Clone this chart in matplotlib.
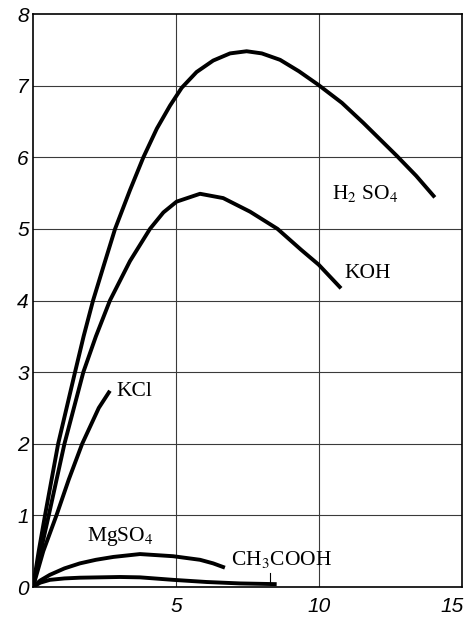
import matplotlib
matplotlib.use("Agg")
import matplotlib.pyplot as plt
import matplotlib.transforms as mtransforms

plt.rcParams['mathtext.fontset'] = 'stix'

# values (x: concentration, y: conductivity)
h2so4_x = [0, 0.2, 0.42, 0.88, 1.47, 1.77, 2.1, 2.46, 2.87, 3.39, 3.86, 4.33, 4.79, 5.2, 5.72,
           6.30, 6.89, 7.47, 8.0, 8.64, 9.3, 9.98, 10.8, 11.55, 12.72, 13.4, 14.05]
h2so4_y = [0, 0.5, 1.0, 2.0, 3.0, 3.5, 4.0, 4.47, 5.0, 5.54, 6.0, 6.40, 6.72, 6.97, 7.19,
           7.35, 7.45, 7.48, 7.45, 7.36, 7.2, 7.01, 6.76, 6.48, 6.02, 5.74, 5.44]

koh_x = [0, 0.27, 0.55, 1.1, 1.76, 2.2, 2.69, 3.39, 4.09, 4.56, 5.02, 5.84, 6.65, 7.59, 8.55, 9.37, 9.99, 10.77]
koh_y = [0, 0.5, 1.0, 2.0, 3.0, 3.5, 4.0, 4.55, 5.0, 5.23, 5.38, 5.49, 5.43, 5.24, 5.0, 4.71, 4.5, 4.17]

kcl_x = [0, 0.36, 0.82, 1.25, 1.72, 2.3, 2.69]
kcl_y = [0, 0.5, 1.0, 1.5, 2.0, 2.5, 2.74]

mgso4_x = [0, 0.25, 0.59, 1.1, 1.64, 2.2, 2.81, 3.74, 4.9, 5.84, 6.3, 6.71]
mgso4_y = [0, 0.09, 0.17, 0.26, 0.33, 0.38, 0.42, 0.46, 0.43, 0.38, 0.33, 0.27]

ch3cooh_x = [0, 0.25, 0.59, 1.1, 1.64, 3.04, 3.74, 4.9, 6.07, 7.24, 8.52]
ch3cooh_y = [0, 0.06, 0.10, 0.12, 0.13, 0.14, 0.135, 0.10, 0.07, 0.05, 0.04]

y_ticks = [0, 1, 2, 3, 4, 5, 6, 7, 8]
x_ticks = [5, 10, 15]

fig = plt.figure(figsize=(4.66, 6.17), dpi=100)
ax = fig.add_axes([0.0708, 0.0486, 0.9206, 0.9287])

grid_kw = dict(color='#3a3a3a', lw=0.8, zorder=1)
for yy in y_ticks[1:-1]:
    ax.axhline(yy, **grid_kw)
for xx in x_ticks[:-1]:
    ax.axvline(xx, **grid_kw)

curve_kw = dict(color='black', lw=2.8, solid_capstyle='butt', solid_joinstyle='round', zorder=3)
ax.plot(h2so4_x, h2so4_y, **curve_kw)
ax.plot(koh_x, koh_y, **curve_kw)
ax.plot(kcl_x, kcl_y, **curve_kw)
ax.plot(mgso4_x, mgso4_y, **curve_kw)
ax.plot(ch3cooh_x, ch3cooh_y, **curve_kw)

lab_kw = dict(family='Liberation Serif', fontsize=15.5, va='center', ha='left')
ax.text(10.44, 5.5, r'H$_2$ SO$_4$', **lab_kw)
ax.text(10.9, 4.38, 'KOH', **lab_kw)
ax.text(2.93, 2.73, 'KCl', **lab_kw)
ax.text(1.88, 0.70, r'MgSO$_4$', **lab_kw)
ax.text(6.91, 0.39, r'CH$_3$COOH', **lab_kw)
ax.plot([8.29, 8.29], [0.19, 0.05], color='black', lw=0.8)

ax.set_xlim(0, 15)
ax.set_ylim(0, 8)
ax.set_xticks(x_ticks)
ax.set_yticks(y_ticks)
ax.tick_params(length=0, labelsize=15)
ax.tick_params(axis='x', pad=7)
ax.tick_params(axis='y', pad=3)
for lbl in ax.get_xticklabels() + ax.get_yticklabels():
    lbl.set_fontstyle('italic')
    lbl.set_family('Liberation Sans')
# last x label sits a bit left so it stays inside the picture
last = ax.get_xticklabels()[-1]
last.set_transform(last.get_transform() + mtransforms.ScaledTranslation(-7 / 72, 0, fig.dpi_scale_trans))
for sp in ax.spines.values():
    sp.set_linewidth(1.2)

fig.savefig('out.png', dpi=100)
